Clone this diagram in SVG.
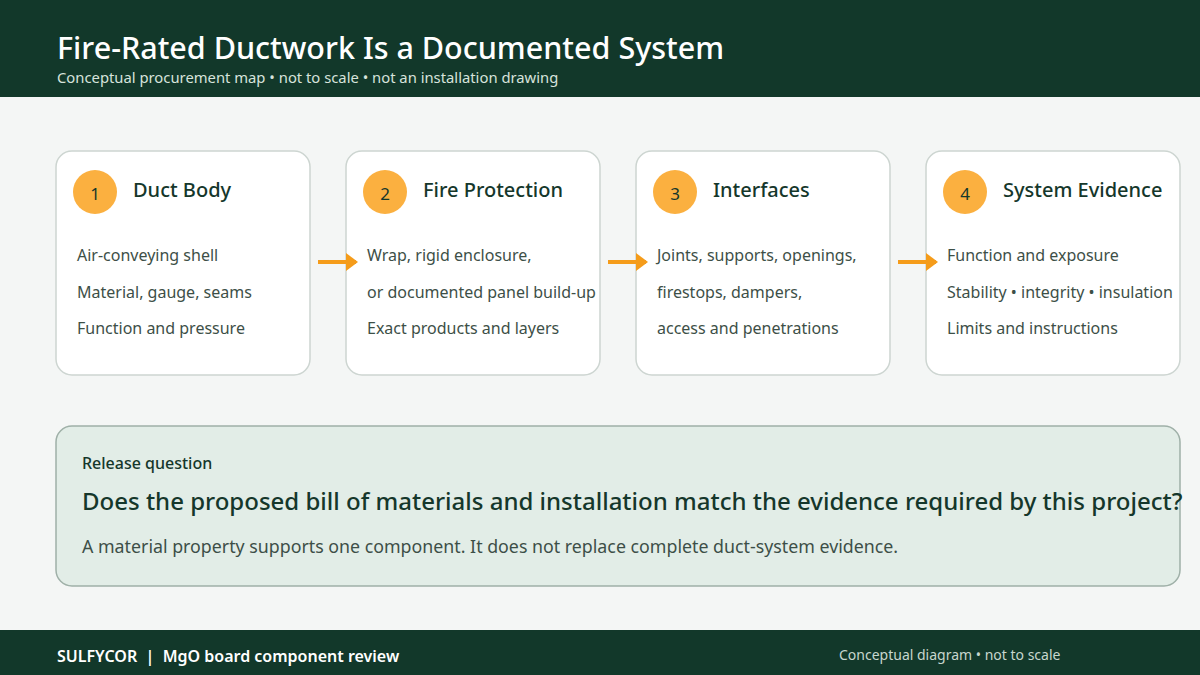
<svg xmlns="http://www.w3.org/2000/svg" width="1200" height="675" viewBox="0 0 1200 675">
<style>
text{font-family:"Noto Sans","Open Sans",sans-serif}
.card{fill:#fff;stroke:#cdd5d1;stroke-width:1.5}
.num{fill:#fbb040}
.nt{font-size:17px;fill:#15372b;text-anchor:middle}
.ttl{font-size:20px;font-weight:500;fill:#15372b}
.body{font-size:16px;fill:#3d4f47}
.arr{stroke:#f59c1a;stroke-width:4;fill:none}
</style>
<defs>
<marker id="ah2" markerWidth="12" markerHeight="18" refX="10" refY="9" orient="auto" markerUnits="userSpaceOnUse"><path d="M0,0 L12,9 L0,18Z" fill="#f59c1a"/></marker></defs>
<rect width="1200" height="675" fill="#f4f6f5"/>
<rect width="1200" height="97" fill="#12382a"/>
<text x="57" y="59" font-size="30.5" font-weight="500" fill="#fff">Fire-Rated Ductwork Is a Documented System</text>
<text x="57" y="83" font-size="14.8" fill="#d7e3dc">Conceptual procurement map • not to scale • not an installation drawing</text>
<g id="n1"><rect class="card" x="56" y="151" width="254" height="224" rx="16"/><circle class="num" cx="95" cy="192" r="22"/><text class="nt" x="95" y="200">1</text><text class="ttl" x="133" y="197">Duct Body</text>
<text class="body" x="77" y="261">Air-conveying shell</text><text class="body" x="77" y="298">Material, gauge, seams</text><text class="body" x="77" y="334">Function and pressure</text></g>
<g id="n2"><rect class="card" x="346" y="151" width="254" height="224" rx="16"/><circle class="num" cx="385" cy="192" r="22"/><text class="nt" x="385" y="200">2</text><text class="ttl" x="423" y="197">Fire Protection</text>
<text class="body" x="367" y="261">Wrap, rigid enclosure,</text><text class="body" x="367" y="298">or documented panel build-up</text><text class="body" x="367" y="334">Exact products and layers</text></g>
<g id="n3"><rect class="card" x="636" y="151" width="254" height="224" rx="16"/><circle class="num" cx="675" cy="192" r="22"/><text class="nt" x="675" y="200">3</text><text class="ttl" x="713" y="197">Interfaces</text>
<text class="body" x="657" y="261">Joints, supports, openings,</text><text class="body" x="657" y="298">firestops, dampers,</text><text class="body" x="657" y="334">access and penetrations</text></g>
<g id="n4"><rect class="card" x="926" y="151" width="254" height="224" rx="16"/><circle class="num" cx="965" cy="192" r="22"/><text class="nt" x="965" y="200">4</text><text class="ttl" x="1003" y="197">System Evidence</text>
<text class="body" x="947" y="261">Function and exposure</text><text class="body" x="947" y="298">Stability • integrity • insulation</text><text class="body" x="947" y="334">Limits and instructions</text></g>
<g id="connectors">
<line class="arr" x1="318" y1="262" x2="356" y2="262" marker-end="url(#ah2)"/>
<line class="arr" x1="608" y1="262" x2="646" y2="262" marker-end="url(#ah2)"/>
<line class="arr" x1="898" y1="262" x2="936" y2="262" marker-end="url(#ah2)"/>
</g>
<g id="release"><rect x="56" y="426" width="1124" height="160" rx="16" fill="#e2ede7" stroke="#9fb0a8" stroke-width="1.5"/>
<text x="82" y="469" font-size="16" font-weight="500" fill="#15372b">Release question</text>
<text x="82" y="510" font-size="24" font-weight="500" fill="#15372b">Does the proposed bill of materials and installation match the evidence required by this project?</text>
<text x="82" y="553" font-size="17.8" fill="#3d4f47">A material property supports one component. It does not replace complete duct-system evidence.</text></g>
<rect y="630" width="1200" height="45" fill="#12382a"/>
<text x="57" y="662" font-size="16" font-weight="600" fill="#fff" xml:space="preserve">SULFYCOR  |  MgO board component review</text>
<text x="839" y="660" font-size="14" fill="#c7d6ce">Conceptual diagram • not to scale</text>
</svg>
